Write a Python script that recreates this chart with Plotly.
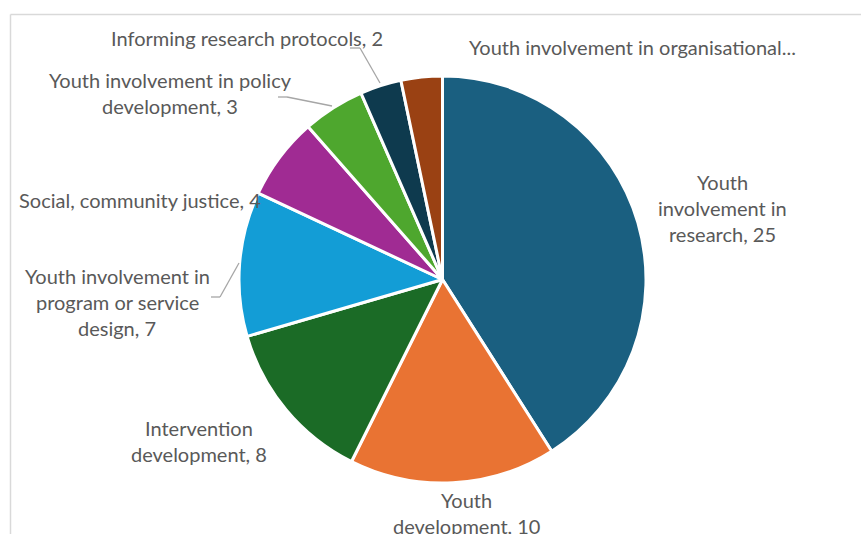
import plotly.graph_objects as go

W, H = 861, 534

categories = [
    "Youth involvement in research",
    "Youth development",
    "Intervention development",
    "Youth involvement in program or service design",
    "Social, community justice",
    "Youth involvement in policy development",
    "Informing research protocols",
    "Youth involvement in organisational...",
]
values = [25, 10, 8, 7, 4, 3, 2, 2]
colors = ["#1a5f80", "#e97333", "#1b6b26", "#139dd6", "#a02b93",
          "#4ea72e", "#0e3a4e", "#9a4113"]

# label line wrapping (layout) and per-label positions in pixels (center x, first line y)
wraps = {
    0: ["Youth", "involvement in", "research, {v}"],
    1: ["Youth", "development, {v}"],
    2: ["Intervention", "development, {v}"],
    3: ["Youth involvement in", "program or service", "design, {v}"],
    4: ["Social, community justice, {v}"],
    5: ["Youth involvement in policy", "development, {v}"],
    6: ["Informing research protocols, {v}"],
    7: ["Youth involvement in organisational..."],
}
label_pos = {
    0: (722, 182), 1: (466, 500), 2: (199, 428), 3: (117, 276),
    4: (140, 200), 5: (170, 80), 6: (247, 38), 7: (632, 47),
}
line_gap = 26

leaders = [
    [(350, 48), (360, 48), (380, 83)],
    [(278, 97), (287, 97), (332, 106)],
    [(211, 297), (220, 297), (239, 263)],
]

def px(x):
    return x / W

def py(y):
    return 1 - y / H

cx, cy, r = 442.5, 279.5, 203.5

fig = go.Figure(go.Pie(
    labels=categories,
    values=values,
    sort=False,
    direction="clockwise",
    rotation=0,
    marker=dict(colors=colors, line=dict(color="white", width=3)),
    textinfo="none",
    hoverinfo="label+value",
    showlegend=False,
    domain=dict(x=[px(cx - r), px(cx + r)], y=[py(cy + r), py(cy - r)]),
))

annotations = []
for i, v in enumerate(values):
    x0, y0 = label_pos[i]
    for k, line in enumerate(wraps[i]):
        annotations.append(dict(
            x=px(x0), y=py(y0 + k * line_gap), xref="paper", yref="paper",
            text=line.format(v=v), showarrow=False,
            xanchor="center", yanchor="middle",
            font=dict(family="Lato, Carlito, sans-serif", size=20, color="#595959"),
        ))

shapes = [dict(type="line", xref="paper", yref="paper",
               x0=px(10.5), y0=py(14.5), x1=1.05, y1=py(14.5),
               line=dict(color="#d9d9d9", width=1.5)),
          dict(type="line", xref="paper", yref="paper",
               x0=px(10.5), y0=py(14.5), x1=px(10.5), y1=-0.05,
               line=dict(color="#d9d9d9", width=1.5))]
for pts in leaders:
    for (a, b) in zip(pts[:-1], pts[1:]):
        shapes.append(dict(type="line", xref="paper", yref="paper",
                           x0=px(a[0]), y0=py(a[1]), x1=px(b[0]), y1=py(b[1]),
                           line=dict(color="#a6a6a6", width=1.3)))

fig.update_layout(
    width=W, height=H,
    margin=dict(l=0, r=0, t=0, b=0),
    paper_bgcolor="white", plot_bgcolor="white",
    annotations=annotations, shapes=shapes,
)

fig.write_html("out.html")
